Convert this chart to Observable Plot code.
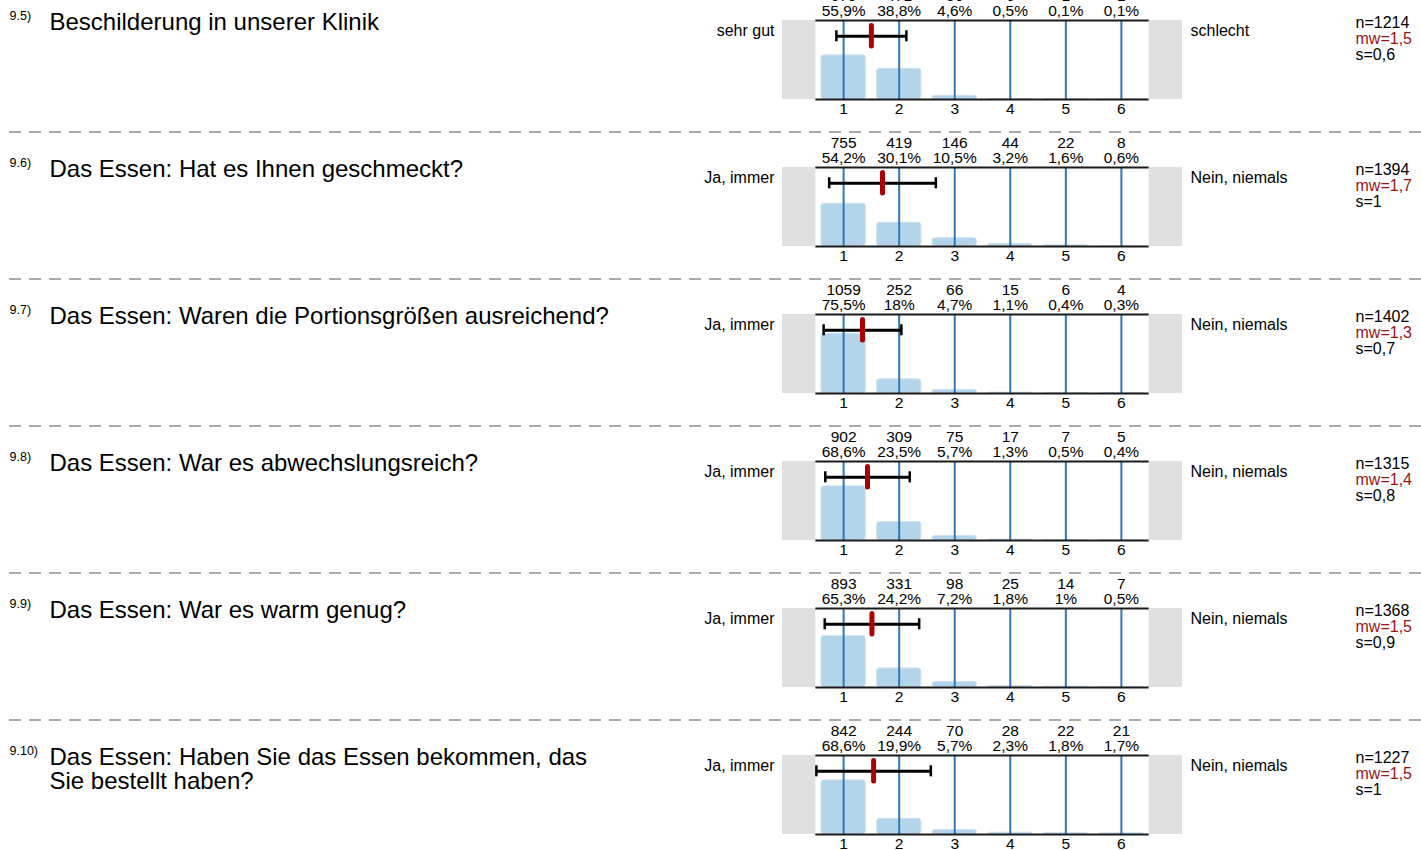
<!DOCTYPE html>
<html>
<head>
<meta charset="utf-8">
<script src="https://cdn.jsdelivr.net/npm/d3@7"></script>
<script src="https://cdn.jsdelivr.net/npm/@observablehq/plot@0.6"></script>
<style>
  html, body { margin: 0; padding: 0; background: #fff; overflow: hidden; }
  #chart { margin-top: -16px; }
  #chart svg { display: block; }
</style>
</head>
<body>
<div id="chart"></div>
<script>
// ---- data ----
const numbers = ["9.5)", "9.6)", "9.7)", "9.8)", "9.9)", "9.10)"];
const questions = [
  "Beschilderung in unserer Klinik",
  "Das Essen: Hat es Ihnen geschmeckt?",
  "Das Essen: Waren die Portionsgrößen ausreichend?",
  "Das Essen: War es abwechslungsreich?",
  "Das Essen: War es warm genug?",
  "Das Essen: Haben Sie das Essen bekommen, das\nSie bestellt haben?"
];
const leftLabels = ["sehr gut", "Ja, immer", "Ja, immer", "Ja, immer", "Ja, immer", "Ja, immer"];
const rightLabels = ["schlecht", "Nein, niemals", "Nein, niemals", "Nein, niemals", "Nein, niemals", "Nein, niemals"];
const scaleValues = [1, 2, 3, 4, 5, 6];
const counts = [
  [679, 471, 56, 6, 1, 1],
  [755, 419, 146, 44, 22, 8],
  [1059, 252, 66, 15, 6, 4],
  [902, 309, 75, 17, 7, 5],
  [893, 331, 98, 25, 14, 7],
  [842, 244, 70, 28, 22, 21]
];
const percents = [
  [55.9, 38.8, 4.6, 0.5, 0.1, 0.1],
  [54.2, 30.1, 10.5, 3.2, 1.6, 0.6],
  [75.5, 18, 4.7, 1.1, 0.4, 0.3],
  [68.6, 23.5, 5.7, 1.3, 0.5, 0.4],
  [65.3, 24.2, 7.2, 1.8, 1, 0.5],
  [68.6, 19.9, 5.7, 2.3, 1.8, 1.7]
];
const nValues = [1214, 1394, 1402, 1315, 1368, 1227];
const means = [1.50, 1.70, 1.34, 1.43, 1.51, 1.54];
const sds = [0.63, 0.96, 0.70, 0.76, 0.85, 1.03];
const meanLabels = ["1,5", "1,7", "1,3", "1,4", "1,5", "1,5"];
const sdLabels = ["0,6", "1", "0,7", "0,8", "0,9", "1"];

// ---- drawing ----
const FONT = "'Liberation Sans', Arial, Helvetica, sans-serif";
const fmtPct = p => String(p).replace(".", ",") + "%";
const container = document.getElementById("chart");

questions.forEach((q, i) => {
  const rows = scaleValues.map((v, j) => ({v, c: counts[i][j], p: percents[i][j]}));
  const stat = [{m: means[i], lo: means[i] - sds[i], hi: means[i] + sds[i]}];
  const plot = Plot.plot({
    width: 1421,
    height: 147,
    marginLeft: 782,
    marginRight: 239,
    marginTop: 36,
    marginBottom: 32,
    style: {fontFamily: FONT, fontSize: "15.5px", color: "#000", background: "#fff", overflow: "visible"},
    x: {domain: [-0.1, 7.1], label: null},
    y: {domain: [0, 100], axis: null},
    marks: [
      // grey end boxes
      Plot.rect([{a: -0.1, b: 0.5}, {a: 6.5, b: 7.1}], {x1: "a", x2: "b", y1: 0, y2: 100, fill: "#e0e0e0"}),
      // bars
      Plot.rect(rows, {x1: d => d.v - 0.4, x2: d => d.v + 0.4, y1: 0, y2: "p", fill: "#b4d4ea", stroke: "#cfe3f2", strokeWidth: 1, rx: 3}),
      // blue scale lines
      Plot.ruleX(scaleValues, {stroke: "#2f77b8", strokeWidth: 2}),
      // frame top / bottom
      Plot.ruleY([0, 100], {x1: 0.5, x2: 6.5, stroke: "#1a1a1a", strokeWidth: 2}),
      // x axis tick labels
      Plot.axisX(scaleValues, {tickSize: 0, tickPadding: 3, fontSize: 15.5, tickFormat: d => String(d), label: null, fill: "#000"}),
      // error bar
      Plot.ruleY(stat, {x1: "lo", x2: "hi", y: 80, stroke: "#000", strokeWidth: 3}),
      Plot.ruleX(stat, {x: "lo", y1: 73, y2: 87, stroke: "#000", strokeWidth: 2.5}),
      Plot.ruleX(stat, {x: "hi", y1: 73, y2: 87, stroke: "#000", strokeWidth: 2.5}),
      // mean marker
      Plot.ruleX(stat, {x: "m", y1: 67, y2: 93, stroke: "#aa0000", strokeWidth: 5, strokeLinecap: "round"}),
      // counts & percents
      Plot.text(rows, {x: "v", y: 100, text: d => String(d.c), dy: -24, lineAnchor: "middle", fontSize: 15.5}),
      Plot.text(rows, {x: "v", y: 100, text: d => fmtPct(d.p), dy: -9, lineAnchor: "middle", fontSize: 15.5}),
      // labels left / right
      Plot.text([leftLabels[i]], {text: d => d, frameAnchor: "top-left", dx: -8, dy: 10, textAnchor: "end", lineAnchor: "middle", fontSize: 16}),
      Plot.text([rightLabels[i]], {text: d => d, frameAnchor: "top-right", dx: 8, dy: 10, textAnchor: "start", lineAnchor: "middle", fontSize: 16}),
      // stats
      Plot.text(["n=" + nValues[i]], {text: d => d, frameAnchor: "top-right", dx: 173, dy: 2, textAnchor: "start", lineAnchor: "middle", fontSize: 16}),
      Plot.text(["mw=" + meanLabels[i]], {text: d => d, frameAnchor: "top-right", dx: 173, dy: 18, textAnchor: "start", lineAnchor: "middle", fontSize: 16, fill: "#9a1414"}),
      Plot.text(["s=" + sdLabels[i]], {text: d => d, frameAnchor: "top-right", dx: 173, dy: 34, textAnchor: "start", lineAnchor: "middle", fontSize: 16}),
      // question number & text
      Plot.text([numbers[i]], {text: d => d, frameAnchor: "top-left", dx: -773, dy: -5, textAnchor: "start", lineAnchor: "middle", fontSize: 12.5}),
      Plot.text([q], {text: d => d, frameAnchor: "top-left", dx: -733, dy: -7, textAnchor: "start", lineAnchor: "top", fontSize: 24, lineHeight: 0.98})
    ]
  });
  // dashed separator above each block
  d3.select(plot).insert("line", ":first-child")
    .attr("x1", 9).attr("x2", 1421).attr("y1", 1).attr("y2", 1)
    .attr("stroke", "#aaaaaa").attr("stroke-width", 2).attr("stroke-dasharray", "12,8");
  container.appendChild(plot);
});
</script>
</body>
</html>
